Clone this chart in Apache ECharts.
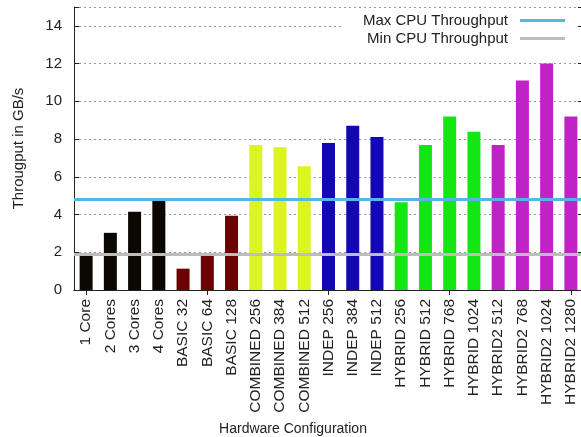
<!DOCTYPE html>
<html>
<head>
<meta charset="utf-8">
<script src="https://cdn.jsdelivr.net/npm/echarts@6/dist/echarts.min.js"></script>
<style>html,body{margin:0;padding:0;background:#fff;}#c{width:581px;height:437px;}</style>
</head>
<body>
<div id="c"></div>
<script>
const categories = ['1 Core','2 Cores','3 Cores','4 Cores','BASIC 32','BASIC 64','BASIC 128','COMBINED 256','COMBINED 384','COMBINED 512','INDEP 256','INDEP 384','INDEP 512','HYBRID 256','HYBRID 512','HYBRID 768','HYBRID 1024','HYBRID2 512','HYBRID2 768','HYBRID2 1024','HYBRID2 1280'];
const throughput = [1.85,3.03,4.15,4.76,1.13,1.85,3.93,7.69,7.56,6.56,7.79,8.71,8.11,4.65,7.69,9.19,8.39,7.69,11.1,12.0,9.19];
const barColors = ['#0b0703','#0b0703','#0b0703','#0b0703','#6b0202','#6b0202','#6b0202','#dcf522','#dcf522','#dcf522','#1306b4','#1306b4','#1306b4','#14e614','#14e614','#14e614','#14e614','#bf23c6','#bf23c6','#bf23c6','#bf23c6'];
const maxCPU = 4.8;
const minCPU = 1.9;
const yTicks = [0,2,4,6,8,10,12,14];

const font = 'Liberation Sans, Arial, sans-serif';
const chart = echarts.init(document.getElementById('c'), null, {renderer:'canvas'});
chart.setOption({
  animation: false,
  backgroundColor: '#fff',
  grid: {left: 74, right: -2, top: 7, bottom: 147, containLabel: false, outerBoundsMode: 'none'},
  legend: {
    orient: 'vertical', align: 'right', right: -2, top: 9,
    padding: [4, 18, 2, 19], backgroundColor: '#fff', itemGap: 3,
    itemWidth: 45, itemHeight: 3, icon: 'rect',
    textStyle: {fontFamily: font, fontSize: 15, color: '#222', padding: [0, 7, 0, 0]},
    data: ['Max CPU Throughput', 'Min CPU Throughput']
  },
  xAxis: [{
    type: 'category', data: categories, position: 'bottom',
    axisLine: {lineStyle: {color: '#222', width: 1}},
    axisTick: {show: false},
    axisLabel: {rotate: 90, margin: 9, fontFamily: font, fontSize: 15.5, color: '#222', interval: 0},
    name: 'Hardware Configuration', nameLocation: 'middle', nameGap: 132,
    nameTextStyle: {fontFamily: font, fontSize: 14, color: '#222', padding: [0, 71, 0, 0]}
  }, {
    type: 'category', data: categories, position: 'top', z: 10,
    axisLine: {lineStyle: {color: '#222', width: 1}},
    axisTick: {show: true, inside: true, length: 5, alignWithLabel: true, lineStyle: {color: '#222'}},
    axisLabel: {show: false}
  }],
  yAxis: [{
    type: 'value', min: 0, max: 15, interval: 2,
    axisLine: {show: true, lineStyle: {color: '#222'}},
    axisTick: {show: true, inside: true, length: 5, lineStyle: {color: '#222'}},
    axisLabel: {fontFamily: font, fontSize: 15, color: '#222', margin: 12,
      formatter: v => yTicks.indexOf(v) >= 0 ? String(v) : ''},
    splitLine: {show: true, lineStyle: {color: '#9a9a9a', type: [2, 3], width: 1}},
    name: 'Througput in GB/s', nameLocation: 'middle', nameGap: 48,
    nameTextStyle: {fontFamily: font, fontSize: 15, color: '#222'}
  }, {
    type: 'value', min: 0, max: 15, interval: 2, position: 'right', z: 10,
    axisLine: {show: true, lineStyle: {color: '#222'}},
    axisTick: {show: true, inside: true, length: 5, lineStyle: {color: '#222'}},
    axisLabel: {show: false}, splitLine: {show: false}
  }],
  series: [{
    type: 'bar', name: 'Throughput', barWidth: 13,
    data: throughput.map((v, i) => ({value: v, itemStyle: {color: barColors[i]}})),
    z: 2
  }, {
    type: 'line', name: 'Max CPU Throughput', data: [], color: '#56b4e9',
    markLine: {silent: true, symbol: 'none', label: {show: false},
      lineStyle: {color: '#56b4e9', width: 3, type: 'solid'}, data: [{yAxis: maxCPU}]},
    z: 3
  }, {
    type: 'line', name: 'Min CPU Throughput', data: [], color: '#bdbdbd',
    markLine: {silent: true, symbol: 'none', label: {show: false},
      lineStyle: {color: '#bdbdbd', width: 3, type: 'solid'}, data: [{yAxis: minCPU}]},
    z: 3
  }]
});
</script>
</body>
</html>
